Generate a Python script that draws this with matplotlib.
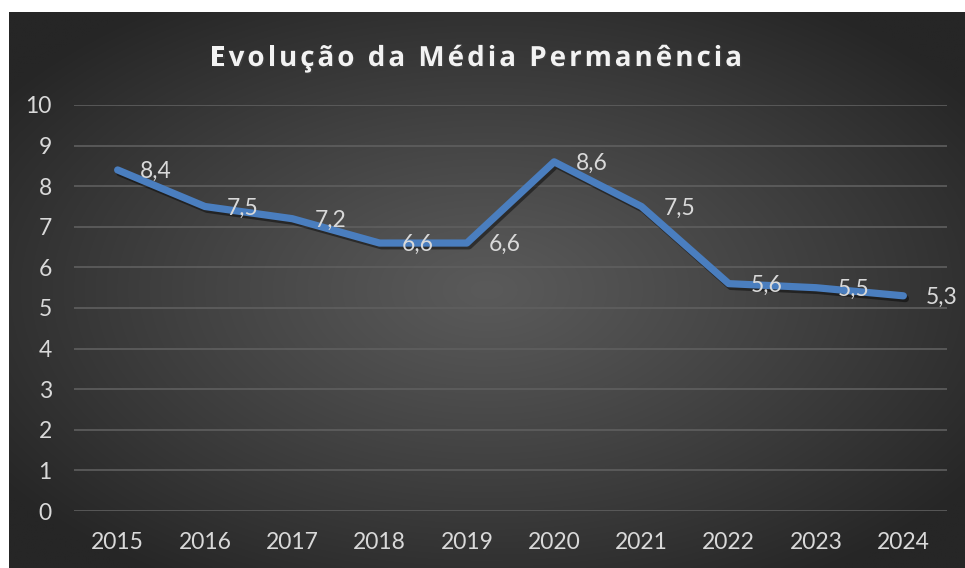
"""Evolução da Média Permanência — gráfico de linha estilo Excel (fundo escuro)."""
import numpy as np
import matplotlib
matplotlib.use("Agg")
import matplotlib.pyplot as plt
import matplotlib.patheffects as pe
from matplotlib.font_manager import FontProperties

# ===== Dados =====
ANOS = ["2015", "2016", "2017", "2018", "2019", "2020", "2021", "2022", "2023", "2024"]
MEDIA_PERMANENCIA = [8.4, 7.5, 7.2, 6.6, 6.6, 8.6, 7.5, 5.6, 5.5, 5.3]
TITULO = "Evolução da Média Permanência"

# ===== Configuração =====
W, H, DPI = 965, 568, 100
COR_LINHA = "#4a7ebf"
COR_TEXTO = "#d9d9d9"
COR_GRADE = "#5f5f5f"
FONTE = "Lato"
TAM = 16.5

fig = plt.figure(figsize=(W / DPI, H / DPI), dpi=DPI)
fig.patch.set_facecolor("white")

# Fundo com gradiente radial (área do gráfico começa após a margem branca)
x0, y0 = 9, 12
bg = fig.add_axes([x0 / W, 0, (W - x0) / W, (H - y0) / H])
bg.set_axis_off()
ny, nx = 300, 500
yy, xx = np.mgrid[0:1:ny * 1j, 0:1:nx * 1j]
r = np.sqrt(((xx - 0.5) / 0.62) ** 2 + ((yy - 0.5) / 0.62) ** 2)
r = np.clip(r, 0, 1)
centro, borda = 0x5a, 0x26
val = (centro + (borda - centro) * r ** 1.1) / 255.0
img = np.dstack([val, val, val])
bg.imshow(img, aspect="auto", extent=[0, 1, 0, 1], interpolation="bilinear")
bg.set_xlim(0, 1)
bg.set_ylim(0, 1)

# Área de plotagem
px0, px1 = 74, 947
py_top, py_bot = 105, 511
ax = fig.add_axes([px0 / W, 1 - py_bot / H, (px1 - px0) / W, (py_bot - py_top) / H])
ax.patch.set_alpha(0)

x = np.arange(len(ANOS))
ax.plot(
    x, MEDIA_PERMANENCIA, color=COR_LINHA, linewidth=5.2, solid_capstyle="round",
    solid_joinstyle="round", zorder=3,
    path_effects=[pe.SimpleLineShadow(offset=(1.5, -2), shadow_color="black", alpha=0.45),
                  pe.Normal()],
)

for xi, v in zip(x, MEDIA_PERMANENCIA):
    ax.annotate(
        f"{v:.1f}".replace(".", ","), (xi, v), xytext=(16, -1), textcoords="offset points",
        ha="left", va="center", fontsize=TAM, color=COR_TEXTO, family=FONTE, zorder=4,
    )

ax.set_xlim(-0.5, len(ANOS) - 0.5)
ax.set_ylim(0, 10)
ax.set_yticks(range(0, 11))
ax.set_xticks(x)
ax.set_xticklabels(ANOS)
ax.yaxis.grid(True, color=COR_GRADE, linewidth=1.2)
ax.set_axisbelow(True)
for s in ax.spines.values():
    s.set_visible(False)
ax.tick_params(length=0, colors=COR_TEXTO, labelsize=TAM)
ax.tick_params(axis="y", pad=16)
ax.tick_params(axis="x", pad=15)
for lbl in ax.get_xticklabels() + ax.get_yticklabels():
    lbl.set_family(FONTE)
    lbl.set_color(COR_TEXTO)

# Título com espaçamento entre letras
fp = FontProperties(family="Open Sans", weight="bold", size=20)
renderer = fig.canvas.get_renderer()
espaco_letra = 3.0  # px


def largura(s):
    return renderer.get_text_width_height_descent(s, fp, ismath=False)[0] if s else 0.0


wsp = largura("a a") - largura("aa")
posicoes = []
cursor = 0.0
for palavra in TITULO.split(" "):
    for k, ch in enumerate(palavra):
        posicoes.append((cursor + largura(palavra[:k]) + k * espaco_letra, ch))
    cursor += largura(palavra) + (len(palavra) - 1) * espaco_letra + wsp + 2 * espaco_letra
total = cursor - wsp - 2 * espaco_letra
cx, cy = 476, 55
inicio = cx - total / 2
for px, ch in posicoes:
    fig.text(
        (inicio + px) / W, 1 - cy / H, ch, fontproperties=fp, color="#f2f2f2",
        ha="left", va="center_baseline",
        path_effects=[pe.SimplePatchShadow(offset=(1, -1), alpha=0.45), pe.Normal()],
    )

fig.savefig("out.png", dpi=DPI, facecolor="white")
